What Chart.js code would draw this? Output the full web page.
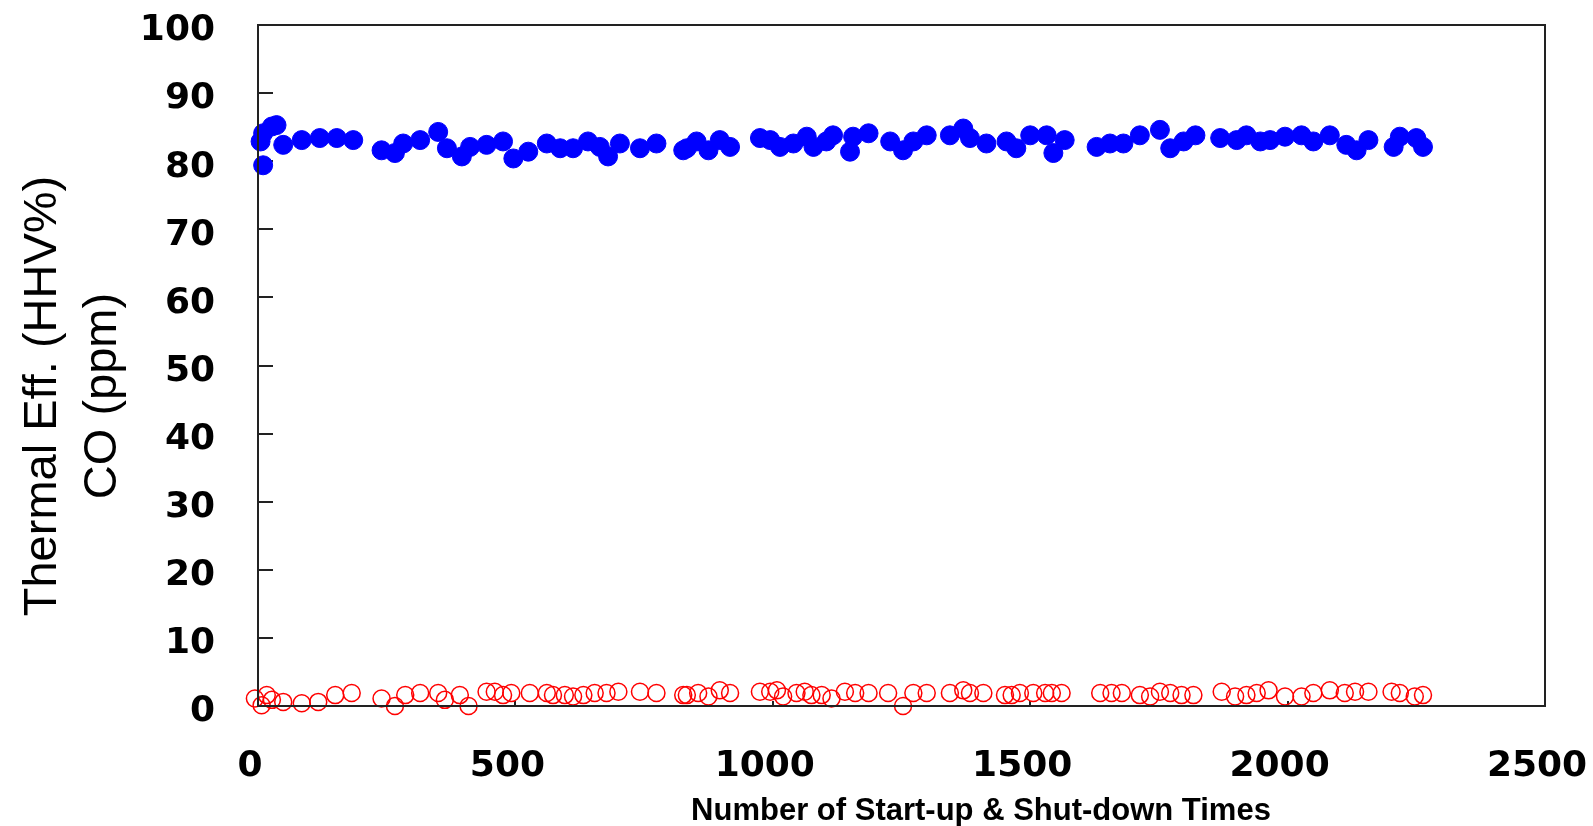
<!DOCTYPE html>
<html>
<head>
<meta charset="utf-8">
<script src="https://cdn.jsdelivr.net/npm/chart.js@4.4.0/dist/chart.umd.min.js"></script>
<style>
  html, body { margin: 0; padding: 0; background: #fff; }
  #wrap { width: 1593px; height: 826px; }
</style>
</head>
<body>
<div id="wrap"><canvas id="effChart" width="1593" height="826"></canvas></div>
<script>
// thermal efficiency (HHV%) - filled blue
const effX = [5, 10, 27, 36, 10, 49, 85, 120, 153, 185,
    240, 266, 282, 315, 350, 367, 396, 412, 444, 476, 496, 525, 561, 587, 612, 641, 664, 680, 703, 742, 774, 826,
    833, 852, 875, 897, 917,
    975, 995, 1014, 1040, 1066, 1079, 1104, 1117, 1150, 1156, 1186, 1228, 1253, 1273, 1299, 1344, 1370, 1383, 1415,
    1454, 1473, 1500, 1532, 1545, 1567,
    1629, 1655, 1681, 1713, 1752, 1772, 1798, 1821, 1869, 1901, 1920, 1947, 1966, 1995, 2027, 2050, 2082, 2114,
    2134, 2157, 2206, 2218, 2250, 2263];
const effY = [82.9, 84.1, 85.1, 85.3, 79.4, 82.4, 83.1, 83.4, 83.4, 83.1,
    81.6, 81.2, 82.6, 83.1, 84.3, 81.9, 80.7, 82.1, 82.4, 82.9, 80.4, 81.4, 82.6, 81.9, 81.9, 82.9, 82.1, 80.7, 82.6, 81.9, 82.6, 81.6,
    81.9, 82.9, 81.6, 83.1, 82.1,
    83.4, 83.1, 82.1, 82.6, 83.6, 82.1, 82.9, 83.8, 81.4, 83.6, 84.1, 82.9, 81.6, 82.9, 83.8, 83.8, 84.8, 83.4, 82.6,
    82.9, 81.9, 83.8, 83.8, 81.2, 83.1,
    82.1, 82.6, 82.6, 83.8, 84.6, 81.9, 82.9, 83.8, 83.4, 83.1, 83.8, 82.9, 83.1, 83.6, 83.8, 82.9, 83.8, 82.4,
    81.6, 83.1, 82.1, 83.6, 83.4, 82.1];

// CO (ppm) - open red
const coX = [-6, 7, 17, 27, 49, 85, 117, 150, 182, 240, 266, 286, 315, 350, 363, 392, 409,
    444, 460, 476, 492, 528, 561, 573, 596, 612, 632, 654, 677, 700, 742, 774, 826,
    833, 855, 875, 897, 917, 975, 995, 1008, 1020, 1046, 1062, 1075, 1095, 1114, 1140, 1160, 1186, 1224, 1253,
    1273, 1299, 1344, 1370, 1383, 1409, 1451, 1464, 1480, 1506, 1529, 1542, 1561, 1636, 1658, 1678,
    1713, 1733, 1752, 1772, 1794, 1817, 1872, 1898, 1920, 1940, 1963, 1995, 2027, 2050, 2082, 2111,
    2131, 2157, 2202, 2218, 2247, 2263];
const coY = [1.1, 0.1, 1.6, 0.9, 0.6, 0.4, 0.6, 1.6, 1.9, 1.1, 0.0, 1.6, 1.9, 1.9, 0.9, 1.6, 0.0,
    2.1, 2.1, 1.6, 1.9, 1.9, 1.9, 1.6, 1.6, 1.4, 1.6, 1.9, 1.9, 2.1, 2.1, 1.9, 1.6,
    1.6, 1.9, 1.4, 2.3, 1.9, 2.1, 2.1, 2.3, 1.4, 1.9, 2.1, 1.6, 1.6, 1.1, 2.1, 1.9, 1.9, 1.9, 0.0,
    1.9, 1.9, 1.9, 2.3, 1.9, 1.9, 1.6, 1.6, 1.9, 1.9, 1.9, 1.9, 1.9, 1.9, 1.9, 1.9,
    1.6, 1.4, 2.1, 1.9, 1.6, 1.6, 2.1, 1.4, 1.6, 1.9, 2.3, 1.4, 1.4, 1.9, 2.3, 1.9,
    2.1, 2.1, 2.1, 1.9, 1.4, 1.6];

const xTicks = [0, 500, 1000, 1500, 2000, 2500];
const yTicks = [0, 10, 20, 30, 40, 50, 60, 70, 80, 90, 100];

const yTitle = ['Thermal Eff. (HHV%)', 'CO (ppm)'];
const xTitle = 'Number of Start-up & Shut-down Times';

const tickFont = { family: 'DejaVu Sans', size: 36, weight: 'bold' };

// frame + axis titles
const frameAndTitles = {
    id: 'frameAndTitles',
    afterDraw(chart) {
        const { ctx, chartArea: a } = chart;
        ctx.save();
        ctx.strokeStyle = '#222';
        ctx.lineWidth = 2;
        ctx.strokeRect(a.left, a.top, a.right - a.left, a.bottom - a.top);

        ctx.fillStyle = '#000';
        ctx.font = 'bold 31px "Liberation Sans", Arial, sans-serif';
        ctx.textAlign = 'center';
        ctx.textBaseline = 'alphabetic';
        ctx.fillText(xTitle, 981, 820, 600);

        ctx.font = '47px "Liberation Sans", Arial, sans-serif';
        ctx.translate(0, 396);
        ctx.rotate(-Math.PI / 2);
        ctx.fillText(yTitle[0], 0, 56, 445);
        ctx.fillText(yTitle[1], 0, 116);
        ctx.restore();
    }
};

const ctx = document.getElementById('effChart').getContext('2d');
new Chart(ctx, {
    type: 'scatter',
    data: {
        datasets: [{
            label: 'Thermal Eff.',
            data: effX.map((x, i) => ({ x: x, y: effY[i] })),
            backgroundColor: '#0000ff',
            borderColor: '#0000ff',
            borderWidth: 1,
            pointRadius: 9.5,
            clip: false
        }, {
            label: 'CO',
            data: coX.map((x, i) => ({ x: x, y: coY[i] })),
            backgroundColor: 'rgba(0,0,0,0)',
            borderColor: '#ff0000',
            borderWidth: 1.5,
            pointRadius: 8.5,
            clip: false
        }]
    },
    options: {
        responsive: false,
        animation: false,
        layout: { padding: { left: 0, top: 25, right: 48, bottom: 0 } },
        plugins: {
            legend: { display: false },
            tooltip: { enabled: false }
        },
        scales: {
            x: {
                type: 'linear',
                min: 0,
                max: 2500,
                afterBuildTicks: s => { s.ticks = xTicks.map(v => ({ value: v })); },
                afterFit: s => { s.height = 120; s.paddingLeft = 0; s.paddingRight = 0; },
                grid: { drawOnChartArea: false, tickLength: -5, color: '#222', lineWidth: 2 },
                border: { color: '#222', width: 2 },
                ticks: { font: tickFont, color: '#000', padding: 44, labelOffset: -8, maxRotation: 0, callback: v => String(v) }
            },
            y: {
                min: 0,
                max: 100,
                afterBuildTicks: s => { s.ticks = yTicks.map(v => ({ value: v })); },
                afterFit: s => { s.width = 258; s.paddingTop = 0; s.paddingBottom = 0; },
                grid: { drawOnChartArea: false, tickLength: -15, color: '#222', lineWidth: 2 },
                border: { color: '#222', width: 2 },
                ticks: { font: tickFont, color: '#000', padding: 58, labelOffset: 6, callback: v => String(v) }
            }
        }
    },
    plugins: [frameAndTitles]
});
</script>
</body>
</html>
